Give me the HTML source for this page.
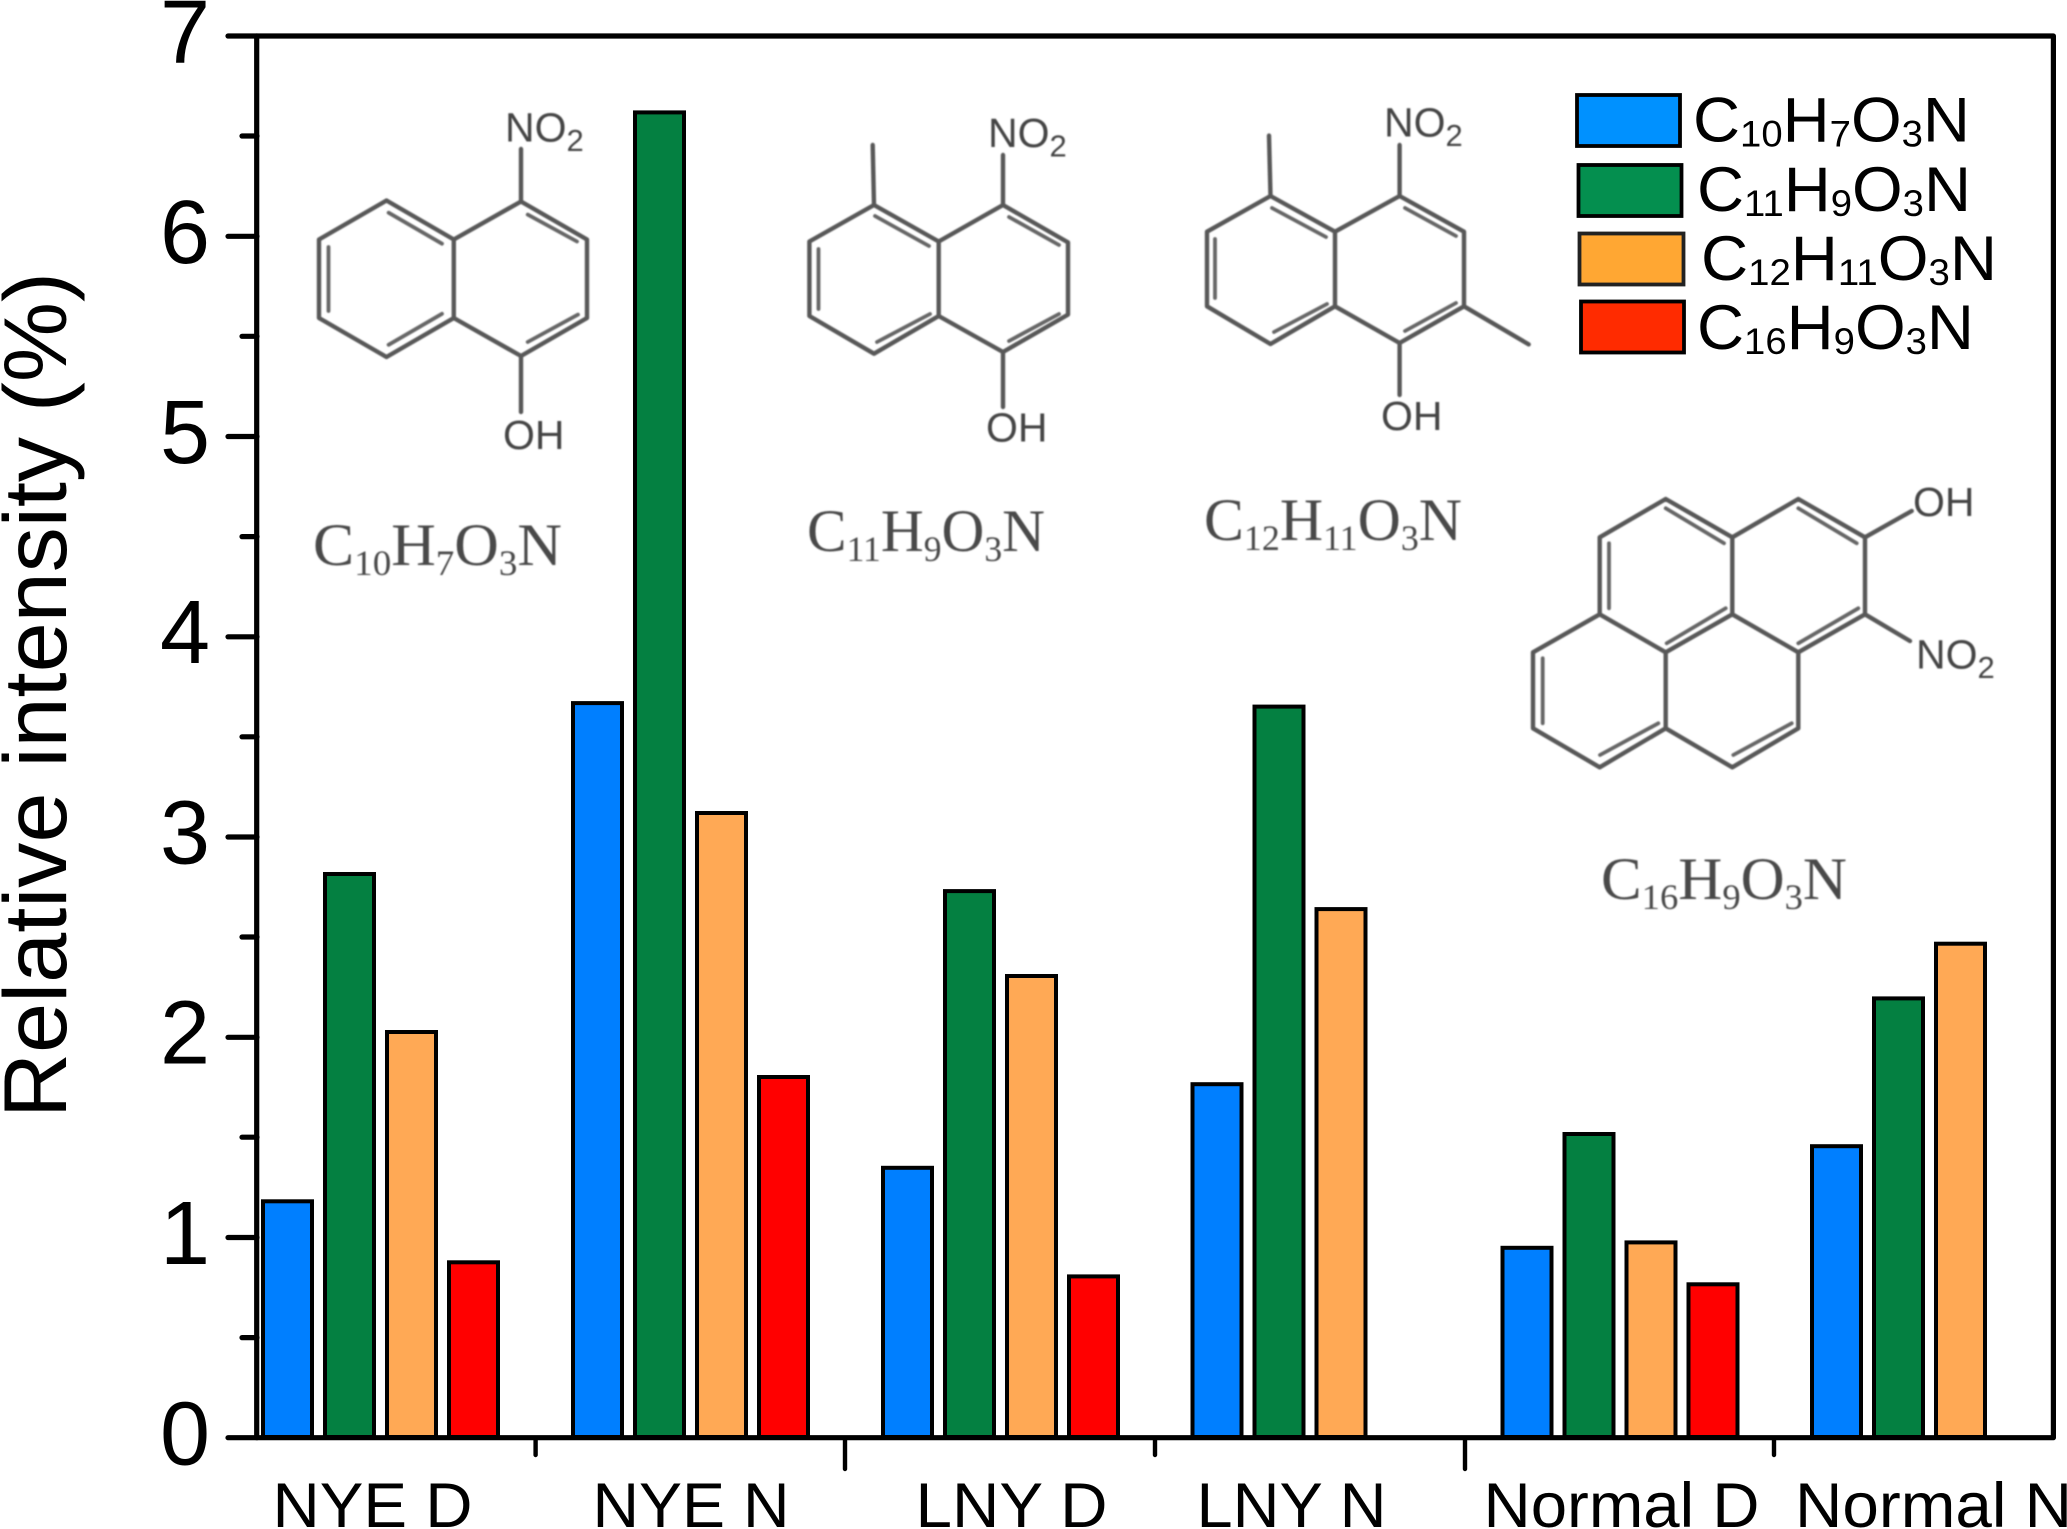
<!DOCTYPE html>
<html>
<head>
<meta charset="utf-8">
<style>
html,body{margin:0;padding:0;background:#fff;width:2067px;height:1529px;overflow:hidden}
svg{display:block}
text{font-family:"Liberation Sans",sans-serif}
.t{font-size:90px;text-anchor:end;fill:#000}
.x{font-size:63px;fill:#000}
.lg{font-size:63px;fill:#000}
.lg tspan.s{font-size:37px}
.m{font-size:41px;fill:#444}
.m tspan{font-size:31px}
.f{font-family:"Liberation Serif",serif;font-size:60px;fill:#4a4a4a}
.f tspan.s{font-size:36px}
.bond{stroke:#595959;stroke-width:4.4;fill:none;stroke-linejoin:round;stroke-linecap:round}
.in{stroke:#666;stroke-width:3.8;fill:none;stroke-linecap:round}
.b rect{stroke:#000;stroke-width:4}
.tick{stroke:#000;stroke-width:5.2;stroke-linecap:round}
</style>
</head>
<body>
<svg width="2067" height="1529" viewBox="0 0 2067 1529" xmlns="http://www.w3.org/2000/svg">
<defs><filter id="bl" x="-5%" y="-5%" width="110%" height="110%"><feGaussianBlur stdDeviation="0.9"/></filter></defs>
<rect width="2067" height="1529" fill="#fff"/>

<!-- molecules -->
<g filter="url(#bl)">
  <!-- mol 1 -->
  <path class="bond" d="M319 239.5L386.5 200.5L453.8 239.5V318L386.5 357L319 318Z M453.8 239.5L521 201.5L587 239.5V318L521 356L453.8 318 M521 201.5V149 M521 356V412"/>
  <path class="in" d="M388.6 212.7L442 243.7 M388.6 344.8L442 313.8 M328.5 247V311 M527.7 214.6L577 241.5 M527.7 342L578 314.6"/>
  <text class="m" x="505" y="141.5">NO<tspan dy="9.5">2</tspan></text>
  <text class="m" x="503" y="449">OH</text>
  <text class="f" x="313" y="565" textLength="249" lengthAdjust="spacingAndGlyphs">C<tspan class="s" dy="10">10</tspan><tspan dy="-10">H</tspan><tspan class="s" dy="10">7</tspan><tspan dy="-10">O</tspan><tspan class="s" dy="10">3</tspan><tspan dy="-10">N</tspan></text>

  <!-- mol 2 -->
  <path class="bond" d="M809.4 241.5L874 205L938.7 241.5V316L874 353.7L809.4 316Z M938.7 241.5L1003 205L1068 242.4V314.6L1003 352L938.7 316 M874 205L872.7 145 M1003 205V155 M1003 352V407"/>
  <path class="in" d="M875 216L929 246 M877 342L930 314 M818.5 249V309 M1009 217L1059 245 M1009 341L1059 314"/>
  <text class="m" x="988" y="147">NO<tspan dy="9.5">2</tspan></text>
  <text class="m" x="986" y="441.5">OH</text>
  <text class="f" x="807" y="551" textLength="238" lengthAdjust="spacingAndGlyphs">C<tspan class="s" dy="10">11</tspan><tspan dy="-10">H</tspan><tspan class="s" dy="10">9</tspan><tspan dy="-10">O</tspan><tspan class="s" dy="10">3</tspan><tspan dy="-10">N</tspan></text>

  <!-- mol 3 -->
  <path class="bond" d="M1207 231.7L1270.5 196L1335 231.7V306.3L1270.5 344L1207 306.3Z M1335 231.7L1399.6 196L1464 231.7V306.3L1399.6 343L1335 306.3 M1270.5 196L1269 135.6 M1399.6 196V145 M1399.6 343V395 M1464 306.3L1528.7 344.4"/>
  <path class="in" d="M1272 208L1326 237 M1274 332L1327 304 M1215 239V298 M1405 208L1456 236 M1405 331L1456 303"/>
  <text class="m" x="1384" y="136.6">NO<tspan dy="9.5">2</tspan></text>
  <text class="m" x="1381" y="430">OH</text>
  <text class="f" x="1204" y="540" textLength="258" lengthAdjust="spacingAndGlyphs">C<tspan class="s" dy="10">12</tspan><tspan dy="-10">H</tspan><tspan class="s" dy="10">11</tspan><tspan dy="-10">O</tspan><tspan class="s" dy="10">3</tspan><tspan dy="-10">N</tspan></text>

  <!-- mol 4 -->
  <path class="bond" d="M1599.7 537.3L1665.7 499L1732.3 537.3L1798.3 499L1865 537.3V614.3L1798.3 652.3L1732.3 614.3V537.3 M1599.7 537.3V614.3L1665.7 652.3L1732.3 614.3 M1599.7 614.3L1533 652.3V728.3L1599.7 767.3L1665.7 728.3V652.3 M1665.7 728.3L1732.3 767.3L1798.3 728.3V652.3 M1865 537.3L1911.7 511 M1865 614.3L1910 641"/>
  <path class="in" d="M1665.7 508.3L1724 543.3 M1798.3 508.3L1856.7 543.3 M1609 543.3V608.3 M1858.3 608.3L1798.3 643.3 M1725.7 608.3L1666.7 643.3 M1542.7 658.3V723.3 M1600 755L1658.3 723.3 M1733.3 755L1791.7 723.3"/>
  <text class="m" x="1913" y="516">OH</text>
  <text class="m" x="1916" y="668.3">NO<tspan dy="9.5">2</tspan></text>
  <text class="f" x="1601" y="899" textLength="246" lengthAdjust="spacingAndGlyphs">C<tspan class="s" dy="10">16</tspan><tspan dy="-10">H</tspan><tspan class="s" dy="10">9</tspan><tspan dy="-10">O</tspan><tspan class="s" dy="10">3</tspan><tspan dy="-10">N</tspan></text>
</g>

<!-- bars -->
<g class="b" transform="translate(-0.75 -1)">
  <g fill="#007fff">
    <rect x="263.75" y="1202.3" width="49" height="235.7"/>
    <rect x="573.75" y="704.1" width="49" height="733.9"/>
    <rect x="883.75" y="1168.8" width="49" height="269.2"/>
    <rect x="1193.25" y="1085.2" width="49" height="352.8"/>
    <rect x="1503.25" y="1248.8" width="49" height="189.2"/>
    <rect x="1812.75" y="1147.2" width="49" height="290.8"/>
  </g>
  <g fill="#048041">
    <rect x="325.75" y="875" width="49" height="563"/>
    <rect x="635.75" y="113.4" width="49" height="1324.6"/>
    <rect x="945.75" y="892.1" width="49" height="545.9"/>
    <rect x="1255.25" y="707.6" width="49" height="730.4"/>
    <rect x="1565.25" y="1135" width="49" height="303"/>
    <rect x="1874.75" y="999.4" width="49" height="438.6"/>
  </g>
  <g fill="#ffa955">
    <rect x="387.75" y="1033" width="49" height="405"/>
    <rect x="697.75" y="814" width="49" height="624"/>
    <rect x="1007.75" y="977" width="49" height="461"/>
    <rect x="1317.25" y="910.1" width="49" height="527.9"/>
    <rect x="1627.25" y="1243.4" width="49" height="194.6"/>
    <rect x="1936.75" y="944.7" width="49" height="493.3"/>
  </g>
  <g fill="#ff0000">
    <rect x="449.75" y="1263.3" width="49" height="174.7"/>
    <rect x="759.75" y="1078" width="49" height="360"/>
    <rect x="1069.75" y="1277.4" width="49" height="160.6"/>
    <rect x="1689.25" y="1285.3" width="49" height="152.7"/>
  </g>
</g>

<!-- frame & ticks -->
<path d="M256.7 36H2053.4V1437.7H256.7Z" fill="none" stroke="#000" stroke-width="5.2" stroke-linejoin="round"/>
<g class="tick">
  <path d="M228 36H257 M228 236.3H257 M228 436.5H257 M228 636.8H257 M228 837H257 M228 1037.3H257 M228 1237.5H257 M228 1437.7H257"/>
  <path d="M242 136H257 M242 336.3H257 M242 536.6H257 M242 736.8H257 M242 937H257 M242 1137.2H257 M242 1337.6H257"/>
  <path stroke-width="4.4" d="M535.6 1437.7V1455 M845 1437.7V1469 M1155 1437.7V1455 M1465 1437.7V1469 M1774 1437.7V1455"/>
</g>

<!-- y tick labels -->
<text class="t" x="210" y="63">7</text>
<text class="t" x="210" y="263">6</text>
<text class="t" x="210" y="463">5</text>
<text class="t" x="210" y="663">4</text>
<text class="t" x="210" y="863.5">3</text>
<text class="t" x="210" y="1063.5">2</text>
<text class="t" x="210" y="1264">1</text>
<text class="t" x="210" y="1464.5">0</text>

<!-- y title -->
<text transform="translate(66 1118) rotate(-90)" x="0" y="0" font-size="89" textLength="846" lengthAdjust="spacingAndGlyphs" fill="#000">Relative intensity (%)</text>

<!-- x labels -->
<text class="x" x="272.5" y="1527" textLength="200" lengthAdjust="spacingAndGlyphs">NYE D</text>
<text class="x" x="592.5" y="1527" textLength="197" lengthAdjust="spacingAndGlyphs">NYE N</text>
<text class="x" x="915.5" y="1527" textLength="192" lengthAdjust="spacingAndGlyphs">LNY D</text>
<text class="x" x="1196.5" y="1527" textLength="190" lengthAdjust="spacingAndGlyphs">LNY N</text>
<text class="x" x="1483.5" y="1527" textLength="276" lengthAdjust="spacingAndGlyphs">Normal D</text>
<text class="x" x="1795" y="1527" textLength="277" lengthAdjust="spacingAndGlyphs">Normal N</text>

<!-- legend -->
<rect x="1577" y="95" width="103" height="51" fill="#0091ff" stroke="#000" stroke-width="3.8"/>
<rect x="1578.5" y="165" width="103" height="51" fill="#048f4f" stroke="#000" stroke-width="3.8"/>
<rect x="1579.5" y="233.5" width="104" height="51" fill="#ffa733" stroke="#222" stroke-width="3.8"/>
<rect x="1581" y="301.5" width="103" height="51" fill="#ff2b00" stroke="#000" stroke-width="3.8"/>
<text class="lg" x="1693" y="141.5" textLength="277" lengthAdjust="spacingAndGlyphs">C<tspan class="s" dy="5">10</tspan><tspan dy="-5">H</tspan><tspan class="s" dy="5">7</tspan><tspan dy="-5">O</tspan><tspan class="s" dy="5">3</tspan><tspan dy="-5">N</tspan></text>
<text class="lg" x="1697" y="211" textLength="274" lengthAdjust="spacingAndGlyphs">C<tspan class="s" dy="5">11</tspan><tspan dy="-5">H</tspan><tspan class="s" dy="5">9</tspan><tspan dy="-5">O</tspan><tspan class="s" dy="5">3</tspan><tspan dy="-5">N</tspan></text>
<text class="lg" x="1701" y="280" textLength="296" lengthAdjust="spacingAndGlyphs">C<tspan class="s" dy="5">12</tspan><tspan dy="-5">H</tspan><tspan class="s" dy="5">11</tspan><tspan dy="-5">O</tspan><tspan class="s" dy="5">3</tspan><tspan dy="-5">N</tspan></text>
<text class="lg" x="1697" y="349" textLength="277" lengthAdjust="spacingAndGlyphs">C<tspan class="s" dy="5">16</tspan><tspan dy="-5">H</tspan><tspan class="s" dy="5">9</tspan><tspan dy="-5">O</tspan><tspan class="s" dy="5">3</tspan><tspan dy="-5">N</tspan></text>
</svg>
</body>
</html>
